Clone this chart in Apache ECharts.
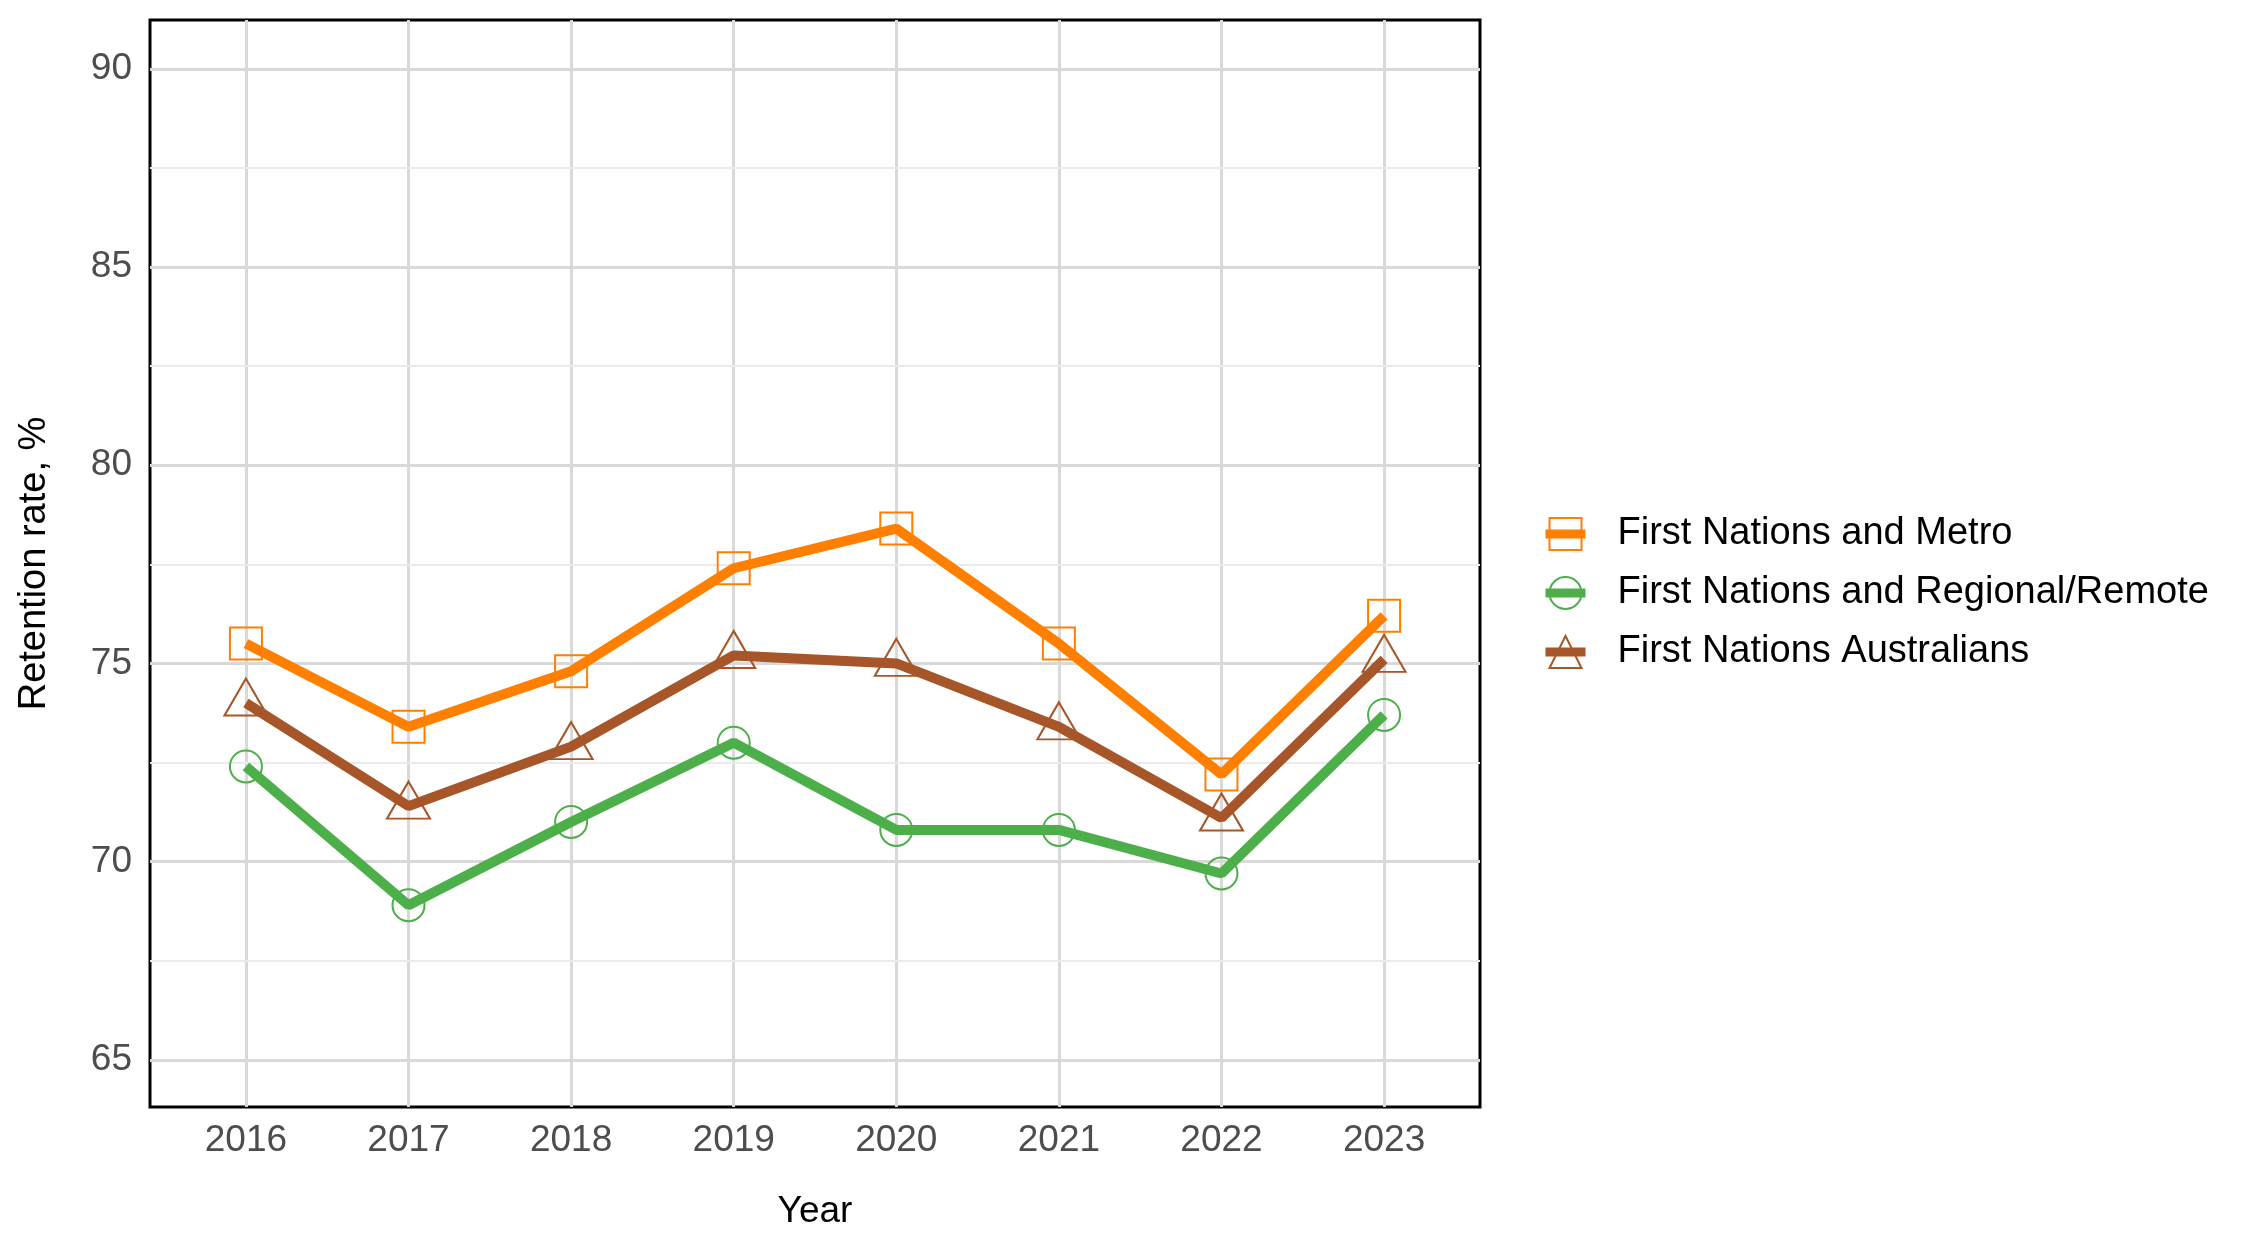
<!DOCTYPE html>
<html><head><meta charset="utf-8">
<script src="https://cdn.jsdelivr.net/npm/echarts@6/dist/echarts.min.js"></script>
<style>html,body{margin:0;padding:0;background:#fff}#c{width:2250px;height:1250px}</style>
</head><body><div id="c"></div>
<script>
const years = [2016, 2017, 2018, 2019, 2020, 2021, 2022, 2023];
const metro = [75.5, 73.4, 74.8, 77.4, 78.4, 75.5, 72.2, 76.2];
const regional = [72.4, 68.9, 71.0, 73.0, 70.8, 70.8, 69.7, 73.7];
const australians = [74.0, 71.4, 72.9, 75.2, 75.0, 73.4, 71.1, 75.1];
const seriesNames = ['First Nations and Metro', 'First Nations and Regional/Remote', 'First Nations Australians'];
const colors = ['#ff7f00', '#4daf4a', '#a65628'];
const yTitle = 'Retention rate, %';
const xTitle = 'Year';
const FONT = "'Liberation Sans', Arial, sans-serif";

function pairs(vals) { return years.map((y, i) => [y, vals[i]]); }

const chart = echarts.init(document.getElementById('c'));
function mkSeries(name, vals, color, symbol, size, offset) {
  return {
    type: 'line', name: name, data: pairs(vals), yAxisIndex: 0,
    symbol: symbol, symbolSize: size, symbolOffset: offset || [0, 0],
    lineStyle: { width: 10, color: color },
    itemStyle: { color: 'transparent', borderColor: color, borderWidth: 2 },
    emphasis: { disabled: true }, z: 5
  };
}
const option = {
  animation: false,
  backgroundColor: '#ffffff',
  grid: { left: 150, top: 20, right: 770, bottom: 143, show: true, borderColor: '#000', borderWidth: 3, backgroundColor: 'transparent' },
  xAxis: {
    type: 'value', min: 2015.41, max: 2023.59, minInterval: 1, maxInterval: 1,
    name: xTitle, nameLocation: 'middle', nameGap: 86,
    nameTextStyle: { fontSize: 37, color: '#000', fontFamily: FONT },
    axisLine: { show: false }, axisTick: { show: false },
    axisLabel: { showMinLabel: false, showMaxLabel: false, formatter: v => String(v), color: '#4d4d4d', fontSize: 37, margin: 15, fontFamily: FONT },
    splitLine: { show: true, showMinLine: false, showMaxLine: false, lineStyle: { color: '#d9d9d9', width: 3 } }
  },
  yAxis: [{
    type: 'value', min: 63.81, max: 91.23, minInterval: 5, maxInterval: 5, z: 2,
    name: yTitle, nameLocation: 'middle', nameGap: 96,
    nameTextStyle: { fontSize: 38, color: '#000', fontFamily: FONT },
    axisLine: { show: false }, axisTick: { show: false },
    axisLabel: { showMinLabel: false, showMaxLabel: false, color: '#4d4d4d', fontSize: 37, margin: 18, fontFamily: FONT },
    splitLine: { show: true, showMinLine: false, showMaxLine: false, lineStyle: { color: '#d9d9d9', width: 3 } }
  }, {
    type: 'value', min: 63.81, max: 91.23, minInterval: 2.5, maxInterval: 2.5, z: 1, position: 'left',
    axisLine: { show: false }, axisTick: { show: false }, axisLabel: { show: false },
    splitLine: { show: true, showMinLine: false, showMaxLine: false, lineStyle: { color: '#ebebeb', width: 2 } }
  }],
  legend: {
    orient: 'vertical', left: 1536, top: 510, itemWidth: 40, itemHeight: 40, itemGap: 21,
    lineStyle: { width: 9 },
    textStyle: { fontSize: 38, color: '#000', fontFamily: FONT, padding: [0, 0, 0, 27] },
    data: seriesNames
  },
  series: [
    mkSeries(seriesNames[0], metro, colors[0], 'rect', 32),
    mkSeries(seriesNames[1], regional, colors[1], 'circle', 32),
    mkSeries(seriesNames[2], australians, colors[2], 'triangle', [43, 37], [0, -6])
  ]
};
chart.setOption(option);
</script></body></html>
